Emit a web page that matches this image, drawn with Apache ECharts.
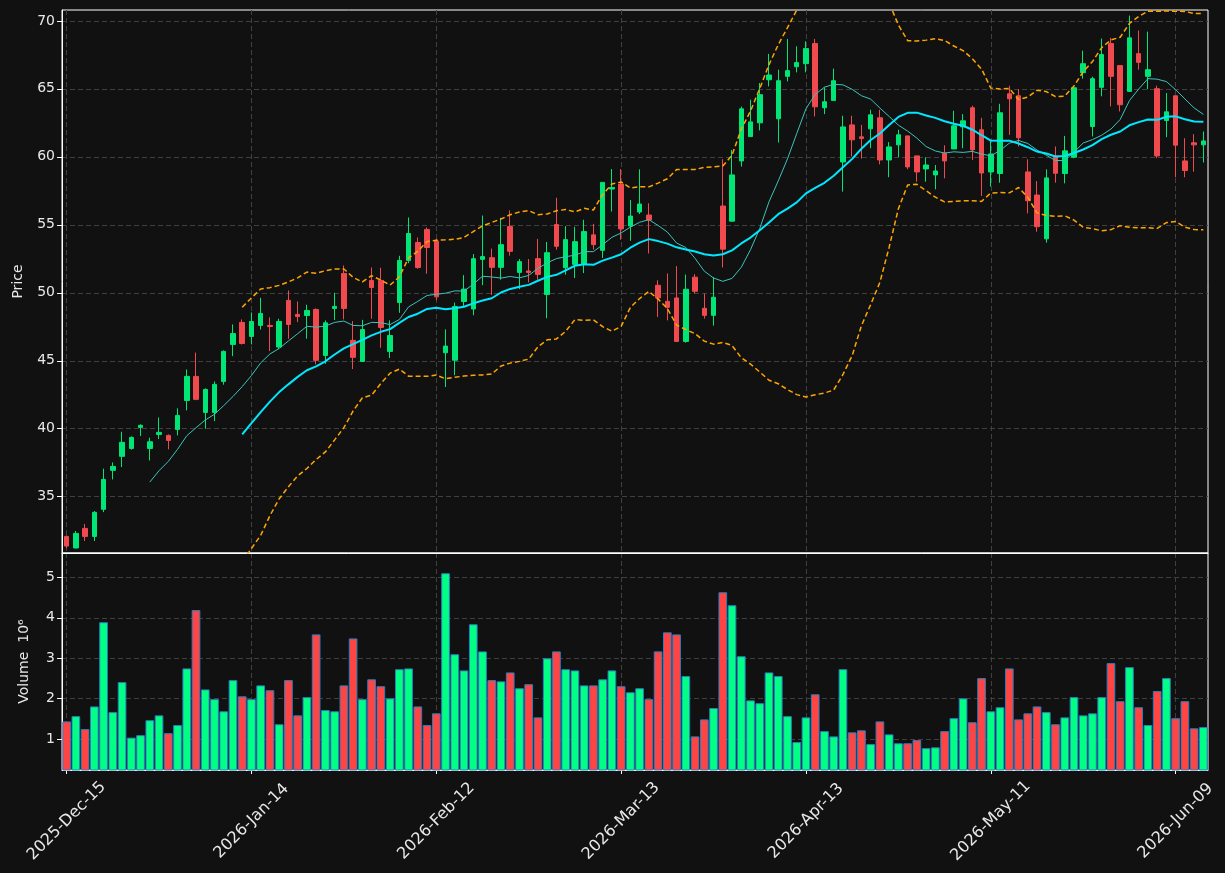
<!DOCTYPE html>
<html>
<head>
<meta charset="utf-8">
<script src="https://cdn.jsdelivr.net/npm/echarts@6/dist/echarts.min.js"></script>
<style>
  html, body { margin: 0; padding: 0; background: #111111; }
  #myEchart { width: 1225px; height: 873px; }
</style>
</head>
<body>
<div id="myEchart"></div>
<script>
var dates = [
  '2025-Dec-15', '2025-Dec-16', '2025-Dec-17', '2025-Dec-18', '2025-Dec-19', '2025-Dec-22', '2025-Dec-23', '2025-Dec-24', '2025-Dec-26', '2025-Dec-29', '2025-Dec-30', '2025-Dec-31',
  '2026-Jan-02', '2026-Jan-05', '2026-Jan-06', '2026-Jan-07', '2026-Jan-08', '2026-Jan-09', '2026-Jan-12', '2026-Jan-13', '2026-Jan-14', '2026-Jan-15', '2026-Jan-16', '2026-Jan-20',
  '2026-Jan-21', '2026-Jan-22', '2026-Jan-23', '2026-Jan-26', '2026-Jan-27', '2026-Jan-28', '2026-Jan-29', '2026-Jan-30',
  '2026-Feb-02', '2026-Feb-03', '2026-Feb-04', '2026-Feb-05', '2026-Feb-06', '2026-Feb-09', '2026-Feb-10', '2026-Feb-11', '2026-Feb-12', '2026-Feb-13', '2026-Feb-17', '2026-Feb-18',
  '2026-Feb-19', '2026-Feb-20', '2026-Feb-23', '2026-Feb-24', '2026-Feb-25', '2026-Feb-26', '2026-Feb-27',
  '2026-Mar-02', '2026-Mar-03', '2026-Mar-04', '2026-Mar-05', '2026-Mar-06', '2026-Mar-09', '2026-Mar-10', '2026-Mar-11', '2026-Mar-12', '2026-Mar-13', '2026-Mar-16', '2026-Mar-17',
  '2026-Mar-18', '2026-Mar-19', '2026-Mar-20', '2026-Mar-23', '2026-Mar-24', '2026-Mar-25', '2026-Mar-26', '2026-Mar-27', '2026-Mar-30', '2026-Mar-31',
  '2026-Apr-01', '2026-Apr-02', '2026-Apr-06', '2026-Apr-07', '2026-Apr-08', '2026-Apr-09', '2026-Apr-10', '2026-Apr-13', '2026-Apr-14', '2026-Apr-15', '2026-Apr-16', '2026-Apr-17',
  '2026-Apr-20', '2026-Apr-21', '2026-Apr-22', '2026-Apr-23', '2026-Apr-24', '2026-Apr-27', '2026-Apr-28', '2026-Apr-29', '2026-Apr-30',
  '2026-May-01', '2026-May-04', '2026-May-05', '2026-May-06', '2026-May-07', '2026-May-08', '2026-May-11', '2026-May-12', '2026-May-13', '2026-May-14', '2026-May-15', '2026-May-18',
  '2026-May-19', '2026-May-20', '2026-May-21', '2026-May-22', '2026-May-26', '2026-May-27', '2026-May-28', '2026-May-29',
  '2026-Jun-01', '2026-Jun-02', '2026-Jun-03', '2026-Jun-04', '2026-Jun-05', '2026-Jun-08', '2026-Jun-09', '2026-Jun-10', '2026-Jun-11', '2026-Jun-12'
];

var opens = [
  32.08, 31.23, 32.67, 32.08, 34.07, 36.94, 37.97, 38.55, 40.10, 38.55, 39.58, 39.51, 39.95, 42.08, 43.85, 41.20, 41.20, 43.48, 46.20, 47.82,
  46.79, 47.60, 47.60, 46.01, 49.44, 48.41, 48.33, 48.77, 45.39, 48.85, 51.42, 46.50, 44.95, 50.91, 50.91, 45.69, 49.29, 52.38, 53.70, 54.66,
  53.80, 45.59, 45.04, 49.36, 48.81, 52.46, 52.58, 51.87, 54.87, 51.50, 51.60, 52.51, 49.87, 55.02, 51.84, 52.09, 52.14, 54.26, 53.12, 57.63,
  58.00, 54.91, 55.94, 55.72, 50.55, 49.37, 49.62, 46.42, 51.15, 48.86, 48.34, 56.38, 55.27, 59.70, 61.49, 62.50, 65.67, 62.80, 65.92, 66.63,
  66.85, 68.33, 63.61, 64.15, 59.62, 62.35, 61.47, 62.06, 62.87, 59.77, 60.88, 61.54, 60.07, 59.11, 58.67, 60.26, 60.58, 62.21, 63.61, 61.99,
  58.89, 58.77, 64.64, 64.49, 58.89, 57.19, 53.97, 60.07, 58.77, 59.97, 66.19, 62.23, 65.11, 68.33, 66.71, 64.81, 67.59, 65.92, 65.01, 62.67,
  64.49, 59.70, 61.03, 60.88
];
var highs = [
  32.15, 32.48, 33.00, 33.95, 37.06, 37.52, 39.78, 39.44, 40.32, 39.34, 40.83, 39.58, 41.50, 44.36, 45.60, 42.97, 43.48, 45.76, 47.67, 48.04,
  48.55, 49.63, 48.19, 48.09, 50.17, 49.36, 49.12, 48.85, 47.97, 50.00, 52.01, 47.92, 48.01, 51.86, 51.84, 47.97, 52.72, 55.54, 54.07, 54.80,
  53.97, 47.31, 49.28, 51.30, 52.85, 55.68, 53.25, 55.51, 56.06, 52.48, 52.48, 53.96, 53.74, 56.99, 54.90, 54.85, 55.37, 55.07, 58.12, 59.10,
  59.10, 56.82, 59.08, 56.58, 50.92, 51.42, 51.96, 51.34, 51.37, 49.94, 51.15, 59.82, 60.51, 63.70, 64.20, 65.43, 67.57, 66.41, 68.67, 68.13,
  68.50, 68.67, 65.11, 66.49, 63.02, 63.02, 62.35, 63.46, 63.46, 61.08, 61.99, 61.54, 60.07, 59.97, 59.40, 60.85, 63.39, 63.14, 63.76, 62.87,
  61.25, 63.90, 65.23, 64.99, 59.82, 58.22, 59.08, 60.76, 61.54, 65.08, 67.81, 65.90, 68.70, 68.75, 66.71, 70.39, 69.29, 69.21, 65.23, 64.69,
  64.49, 61.37, 61.67, 61.86
];
var lows = [
  31.20, 31.20, 31.74, 31.74, 33.87, 36.27, 37.18, 38.46, 39.46, 37.67, 39.24, 38.48, 39.51, 41.35, 42.10, 40.00, 40.56, 43.24, 45.34, 46.20,
  46.20, 47.30, 45.71, 45.88, 46.62, 47.84, 46.62, 44.73, 44.78, 48.00, 48.04, 44.39, 44.95, 48.09, 45.96, 45.20, 48.53, 52.18, 51.76, 51.40,
  49.44, 43.07, 43.94, 48.99, 48.35, 50.56, 49.85, 50.96, 52.73, 50.27, 50.76, 50.96, 48.13, 53.17, 51.33, 51.08, 51.45, 53.17, 52.56, 55.98,
  53.90, 53.82, 55.79, 52.89, 48.22, 47.97, 46.40, 46.33, 49.94, 48.10, 47.58, 51.86, 55.22, 59.28, 61.49, 61.94, 65.18, 61.05, 65.55, 66.21,
  66.21, 62.97, 63.14, 64.15, 57.44, 60.02, 59.87, 60.63, 59.45, 58.50, 59.97, 59.09, 58.17, 58.17, 57.61, 58.42, 60.58, 60.63, 59.77, 57.12,
  57.81, 58.10, 61.62, 60.76, 55.84, 54.49, 53.68, 58.10, 58.05, 59.90, 65.75, 61.50, 64.45, 63.71, 63.34, 64.81, 66.41, 64.98, 59.90, 61.45,
  58.50, 58.50, 58.91, 59.58
];
var closes = [
  31.37, 32.30, 32.08, 33.85, 36.27, 37.23, 39.00, 39.36, 40.25, 39.04, 39.73, 39.14, 40.98, 43.85, 42.16, 42.89, 43.26, 45.69, 47.00, 46.27,
  47.89, 48.48, 47.52, 47.89, 47.67, 48.26, 48.70, 45.03, 47.79, 49.00, 48.85, 45.25, 47.30, 50.39, 47.45, 46.86, 52.38, 54.36, 51.86, 53.33,
  49.70, 46.08, 48.99, 50.27, 52.51, 52.66, 51.87, 53.54, 53.05, 52.29, 51.50, 51.35, 52.95, 53.42, 53.91, 53.76, 54.50, 53.54, 58.12, 57.75,
  54.70, 55.64, 56.53, 55.35, 49.62, 48.93, 46.42, 50.26, 50.11, 48.34, 49.67, 53.21, 58.67, 63.53, 62.57, 64.57, 66.02, 65.60, 66.34, 66.93,
  67.96, 63.68, 64.05, 65.60, 62.20, 61.25, 61.35, 63.09, 59.77, 60.73, 61.62, 59.26, 58.89, 59.40, 58.96, 59.70, 62.28, 62.65, 60.51, 58.81,
  60.21, 63.24, 64.27, 61.40, 56.77, 54.86, 58.45, 58.79, 60.44, 65.08, 66.85, 65.75, 67.52, 65.92, 63.83, 68.75, 66.95, 66.41, 60.07, 63.31,
  60.86, 58.99, 60.88, 61.17
];
// volume in millions
var volumes = [
  1.44, 1.57, 1.25, 1.81, 3.89, 1.67, 2.41, 1.04, 1.10, 1.47, 1.59, 1.15, 1.35, 2.75, 4.19, 2.23, 1.99, 1.69, 2.46, 2.06,
  1.99, 2.33, 2.21, 1.37, 2.46, 1.59, 2.04, 3.59, 1.72, 1.69, 2.33, 3.49, 1.99, 2.48, 2.31, 2.01, 2.73, 2.75, 1.81, 1.35,
  1.64, 5.10, 3.10, 2.70, 3.84, 3.17, 2.46, 2.43, 2.65, 2.26, 2.36, 1.54, 3.00, 3.17, 2.73, 2.70, 2.33, 2.33, 2.48, 2.70,
  2.31, 2.16, 2.26, 1.99, 3.17, 3.64, 3.59, 2.56, 1.07, 1.49, 1.77, 4.63, 4.31, 3.05, 1.96, 1.89, 2.65, 2.56, 1.57, 0.93,
  1.54, 2.11, 1.20, 1.07, 2.73, 1.17, 1.22, 0.88, 1.44, 1.12, 0.90, 0.90, 0.98, 0.78, 0.80, 1.20, 1.52, 2.01, 1.42, 2.51,
  1.69, 1.79, 2.75, 1.49, 1.64, 1.81, 1.67, 1.37, 1.54, 2.04, 1.59, 1.64, 2.04, 2.88, 1.94, 2.78, 1.79, 1.35, 2.19, 2.51,
  1.52, 1.94, 1.27, 1.30
];
var priceTicks = [35, 40, 45, 50, 55, 60, 65, 70];
var volumeTicks = [1, 2, 3, 4, 5];

var upColor = '#00e676';
var downColor = '#f04a4f';
var volUp = '#00ff84';
var volDown = '#ff4444';
var gridLine = {type: [5, 3], color: '#404040', width: 1};
var textColor = '#e8e8e8';

function rollingMean (arr, n) {
  return arr.map(function (v, i) {
    if (i < n - 1) return '-';
    var s = 0;
    for (var k = i - n + 1; k <= i; k++) s += arr[k];
    return +(s / n).toFixed(3);
  });
}

function rollingStd (arr, n) {
  return arr.map(function (v, i) {
    if (i < n - 1) return '-';
    var s = 0;
    for (var k = i - n + 1; k <= i; k++) s += arr[k];
    var m = s / n;
    var q = 0;
    for (k = i - n + 1; k <= i; k++) q += (arr[k] - m) * (arr[k] - m);
    return Math.sqrt(q / (n - 1));
  });
}

var ma10 = rollingMean(closes, 10);
var ma20 = rollingMean(closes, 20);
var sd20 = rollingStd(closes, 20);
var upper = ma20.map(function (m, i) { return m === '-' ? '-' : +(m + 2 * sd20[i]).toFixed(3); });
var lower = ma20.map(function (m, i) { return m === '-' ? '-' : +(m - 2 * sd20[i]).toFixed(3); });

var candles = dates.map(function (d, i) {
  return [opens[i], closes[i], lows[i], highs[i]];
});
var volBars = volumes.map(function (v, i) {
  return {value: v, itemStyle: {color: closes[i] >= opens[i] ? volUp : volDown}};
});

var chart = echarts.init(document.getElementById('myEchart'));
var option = {
  backgroundColor: '#111111',
  animation: false,
  textStyle: {fontFamily: 'DejaVu Sans'},
  grid: [
    {left: 62, right: 17, top: 10, height: 543, show: true, borderColor: '#ffffff', borderWidth: 1},
    {left: 62, right: 17, top: 553, height: 217, show: true, borderColor: '#ffffff', borderWidth: 1}
  ],
  xAxis: [
    {
      type: 'category',
      gridIndex: 0,
      data: dates,
      boundaryGap: true,
      axisLine: {lineStyle: {color: '#ffffff'}},
      axisTick: {show: false},
      axisLabel: {show: false},
      splitLine: {show: true, interval: 19, alignWithLabel: true, lineStyle: gridLine}
    },
    {
      type: 'category',
      gridIndex: 1,
      data: dates,
      boundaryGap: true,
      axisLine: {lineStyle: {color: '#ffffff'}},
      axisTick: {show: true, interval: 19, alignWithLabel: true, length: 4, lineStyle: {color: '#ffffff'}},
      // labels centred on the tick, like the rotated labels of the original
      axisLabel: {
        interval: 19,
        rotate: 45,
        align: 'center',
        verticalAlign: 'middle',
        margin: 51,
        color: textColor,
        fontSize: 16
      },
      splitLine: {show: true, interval: 19, alignWithLabel: true, lineStyle: gridLine}
    }
  ],
  yAxis: [
    {
      type: 'value',
      gridIndex: 0,
      min: 30.86,
      max: 70.8,
      name: 'Price',
      nameLocation: 'middle',
      nameGap: 37,
      nameTextStyle: {color: textColor, fontSize: 14},
      axisLine: {show: true, lineStyle: {color: '#ffffff'}},
      axisTick: {show: true, length: 5, customValues: priceTicks, lineStyle: {color: '#ffffff'}},
      axisLabel: {color: textColor, fontSize: 14, margin: 7, customValues: priceTicks},
      splitLine: {show: true, lineStyle: gridLine}
    },
    {
      type: 'value',
      gridIndex: 1,
      min: 0.24,
      max: 5.6,
      name: 'Volume  10\u2076',
      nameLocation: 'middle',
      nameGap: 31,
      nameTextStyle: {color: textColor, fontSize: 14},
      axisLine: {show: true, lineStyle: {color: '#ffffff'}},
      axisTick: {show: true, length: 5, customValues: volumeTicks, lineStyle: {color: '#ffffff'}},
      axisLabel: {color: textColor, fontSize: 14, margin: 7, customValues: volumeTicks},
      splitLine: {show: true, lineStyle: gridLine}
    }
  ],
  series: [
    {
      name: 'Price',
      type: 'candlestick',
      xAxisIndex: 0,
      yAxisIndex: 0,
      barWidth: 5,
      data: candles,
      itemStyle: {
        color: upColor,
        color0: downColor,
        borderColor: upColor,
        borderColor0: downColor,
        borderWidth: 1
      }
    },
    {
      name: 'MA10',
      type: 'line',
      data: ma10,
      symbol: 'none',
      lineStyle: {color: '#3cc4bb', width: 1}
    },
    {
      name: 'MA20',
      type: 'line',
      data: ma20,
      symbol: 'none',
      lineStyle: {color: '#00e8ff', width: 2}
    },
    {
      name: 'BB upper',
      type: 'line',
      data: upper,
      symbol: 'none',
      lineStyle: {color: '#ffa500', width: 1.5, type: [5, 3]}
    },
    {
      name: 'BB lower',
      type: 'line',
      data: lower,
      symbol: 'none',
      lineStyle: {color: '#ffa500', width: 1.5, type: [5, 3]}
    },
    {
      name: 'Volume',
      type: 'bar',
      xAxisIndex: 1,
      yAxisIndex: 1,
      barCategoryGap: '6%',
      data: volBars,
      itemStyle: {borderColor: '#2a7fc0', borderWidth: 1}
    }
  ]
};
chart.setOption(option);
</script>
</body>
</html>
